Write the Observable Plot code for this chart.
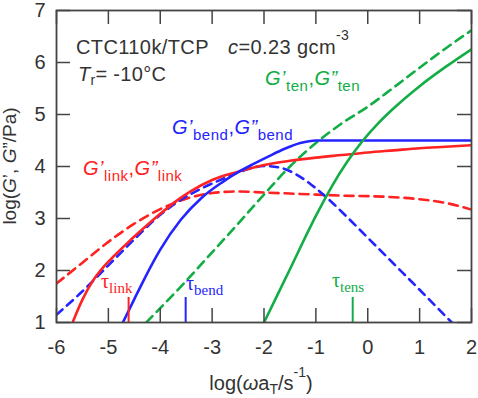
<!DOCTYPE html>
<html>
<head>
<meta charset="utf-8">
<script src="https://cdn.jsdelivr.net/npm/d3@7"></script>
<script src="https://cdn.jsdelivr.net/npm/@observablehq/plot@0.6"></script>
<style>
  html, body { margin: 0; padding: 0; background: #fff; }
  svg { display: block; }
</style>
</head>
<body>
<div id="chart"></div>
<script>
// ---- data ----
const xTicks = [-6, -5, -4, -3, -2, -1, 0, 1, 2];
const yTicks = [1, 2, 3, 4, 5, 6, 7];

// G'_link (solid red)
const gpLink = [[-5.69,1.0],[-5.5,1.44],[-5.3,1.8],[-5.1,2.06],[-4.9,2.27],[-4.6,2.56],[-4.3,2.83],[-4.0,3.09],[-3.7,3.33],[-3.4,3.53],[-3.0,3.74],[-2.5,3.9],[-2.0,4.03],[-1.5,4.11],[-1.0,4.17],[-0.5,4.22],[0,4.27],[0.5,4.31],[1.0,4.35],[1.5,4.38],[2.0,4.41]];
// G''_link (dashed red)
const gppLink = [[-6,1.75],[-5.5,2.15],[-5.0,2.55],[-4.5,2.9],[-4.0,3.18],[-3.5,3.38],[-3.0,3.49],[-2.5,3.52],[-2.0,3.5],[-1.5,3.48],[-1.0,3.46],[-0.5,3.44],[0,3.43],[0.5,3.41],[1.0,3.37],[1.5,3.30],[2.0,3.17]];
// G'_bend (solid blue)
const gpBend = [[-4.72,1.0],[-4.5,1.45],[-4.3,1.85],[-4.0,2.4],[-3.6,2.98],[-3.2,3.4],[-2.8,3.7],[-2.5,3.89],[-2.2,4.05],[-1.9,4.2],[-1.6,4.34],[-1.3,4.45],[-1.0,4.5],[-0.5,4.5],[0,4.5],[1,4.5],[2,4.5]];
// G''_bend (dashed blue)
const gppBend = [[-6,1.15],[-5.5,1.6],[-5.0,2.1],[-4.5,2.6],[-4.0,3.07],[-3.6,3.36],[-3.2,3.58],[-2.8,3.76],[-2.4,3.92],[-2.0,4.01],[-1.7,3.98],[-1.4,3.86],[-1.1,3.66],[-0.8,3.41],[-0.4,3.03],[0,2.63],[0.5,2.13],[1.0,1.63],[1.62,1.0]];
// G'_ten (solid green)
const gpTen = [[-2.0,1.0],[-1.5,2.025],[-1.0,3.05],[-0.7,3.605],[-0.4,4.085],[-0.1,4.49],[0.2,4.83],[0.5,5.12],[1.0,5.545],[1.5,5.915],[2.0,6.255]];
// G''_ten (dashed green)
const gppTen = [[-4.27,1.0],[-3.5,1.8],[-3.0,2.35],[-2.5,2.9],[-2.0,3.46],[-1.5,4.0],[-1.0,4.45],[-0.5,4.83],[0,5.15],[0.5,5.52],[1.0,5.9],[1.5,6.27],[2.0,6.62]];
// relaxation times (log tau markers)
const tauLink = [-4.61];
const tauBend = [-3.51];
const tauTens = [-0.29];

// ---- styles ----
const RED = "#ff2222", BLUE = "#2424ff", GREEN = "#12ad45";
const AX = "#444", TXT = "#333";
const FONT = "'Liberation Sans', Arial, sans-serif";
const SERIF = "'Liberation Serif', 'Times New Roman', serif";
const W = 478, H = 398, ML = 56, MR = 7, MT = 10, MB = 76;
const PW = W - ML - MR, PH = H - MT - MB, TICK = 14, TAU = 25;

const lineOpts = (c, dash) => ({x: d => d[0], y: d => d[1], stroke: c, strokeWidth: 2.6, curve: "monotone-x", strokeDasharray: dash, clip: true});

const chart = Plot.plot({
  width: W, height: H,
  marginLeft: ML, marginRight: MR, marginTop: MT, marginBottom: MB,
  style: {fontFamily: FONT, background: "#fff"},
  x: {domain: [-6, 2]},
  y: {domain: [1, 7]},
  marks: [
    Plot.line(gppLink, lineOpts(RED, "9,6")),
    Plot.line(gppBend, lineOpts(BLUE, "8,6")),
    Plot.line(gppTen, lineOpts(GREEN, "9,6")),
    Plot.line(gpLink, lineOpts(RED)),
    Plot.line(gpBend, lineOpts(BLUE)),
    Plot.line(gpTen, lineOpts(GREEN)),
    Plot.tickX(tauLink, {x: d => d, stroke: RED, strokeWidth: 2, insetTop: PH - TAU}),
    Plot.tickX(tauBend, {x: d => d, stroke: BLUE, strokeWidth: 2, insetTop: PH - TAU}),
    Plot.tickX(tauTens, {x: d => d, stroke: GREEN, strokeWidth: 2, insetTop: PH - TAU}),
    // inward ticks on all four sides
    Plot.tickX(xTicks, {x: d => d, stroke: AX, strokeWidth: 1.5, insetTop: PH - TICK}),
    Plot.tickX(xTicks, {x: d => d, stroke: AX, strokeWidth: 1.5, insetBottom: PH - TICK}),
    Plot.tickY(yTicks, {y: d => d, stroke: AX, strokeWidth: 1.5, insetRight: PW - TICK}),
    Plot.tickY(yTicks, {y: d => d, stroke: AX, strokeWidth: 1.5, insetLeft: PW - TICK}),
    Plot.frame({stroke: AX, strokeWidth: 1.8}),
    Plot.axisX({ticks: xTicks, tickSize: 0, tickPadding: 17, fontSize: 20, fill: TXT, tickFormat: d => String(d), label: null}),
    Plot.axisY({ticks: yTicks, tickSize: 0, tickPadding: 11, fontSize: 20, fill: TXT, tickFormat: d => String(d), label: null})
  ]
});
document.getElementById("chart").appendChild(chart);

// ---- rich-text annotations ----
const svg = d3.select(chart);
function rich(x, y, parts, o) {
  const t = svg.append("text")
    .attr("x", x).attr("y", y)
    .attr("fill", o.fill || TXT)
    .attr("font-family", o.family || FONT)
    .attr("font-size", o.size)
    .attr("letter-spacing", o.ls || 0)
    .attr("text-anchor", o.anchor || "start");
  if (o.rotate) t.attr("transform", `rotate(-90 ${x} ${y})`);
  let shift = 0;
  for (const p of parts) {
    const target = p.sub ? o.subShift : p.sup ? -o.supShift : 0;
    const s = t.append("tspan").text(p.t).attr("dy", target - shift);
    shift = target;
    if (p.sub || p.sup) s.attr("font-size", o.small);
    if (p.i) s.attr("font-style", "italic");
  }
}

rich(76, 54, [{t: "CTC110k/TCP"}], {size: 20, ls: 0.4});
rich(228, 54, [{t: "c", i: true}, {t: "=0.23 gcm"}, {t: "-3", sup: true}], {size: 20, small: 14, supShift: 14, ls: 0.4});
rich(78, 81, [{t: "T", i: true}, {t: "r", sub: true}, {t: "= -10°C"}], {size: 20, small: 14, subShift: 4, ls: 0.3});

const gParts = s => [{t: "G", i: true}, {t: "\u2019", i: true}, {t: s, sub: true}, {t: ","}, {t: "G", i: true}, {t: "\u201D", i: true}, {t: s, sub: true}];
rich(83, 175, gParts("link"), {size: 20, small: 15, subShift: 6, fill: RED, ls: 0.5});
rich(172, 134, gParts("bend"), {size: 20, small: 15, subShift: 6, fill: BLUE, ls: 0.5});
rich(265, 85, gParts("ten"), {size: 20, small: 15, subShift: 6, fill: GREEN, ls: 0.5});

const tauParts = s => [{t: "\u03C4"}, {t: s, sub: true}];
rich(101, 288, tauParts("link"), {size: 20, small: 15, subShift: 5, fill: RED, family: SERIF});
rich(186, 290, tauParts("bend"), {size: 20, small: 15, subShift: 5, fill: BLUE, family: SERIF});
rich(332, 287, tauParts("tens"), {size: 20, small: 15, subShift: 5, fill: GREEN, family: SERIF});

// axis titles
rich(261, 390, [{t: "log("}, {t: "\u03C9", i: true}, {t: "a"}, {t: "T", sub: true}, {t: "/s"}, {t: "-1", sup: true}, {t: ")"}],
  {size: 20, small: 14, subShift: 4, supShift: 13, anchor: "middle"});
rich(16, 166, [{t: "log("}, {t: "G", i: true}, {t: "\u2019, "}, {t: "G", i: true}, {t: "\u201D/Pa)"}],
  {size: 19, anchor: "middle", rotate: true});
</script>
</body>
</html>
